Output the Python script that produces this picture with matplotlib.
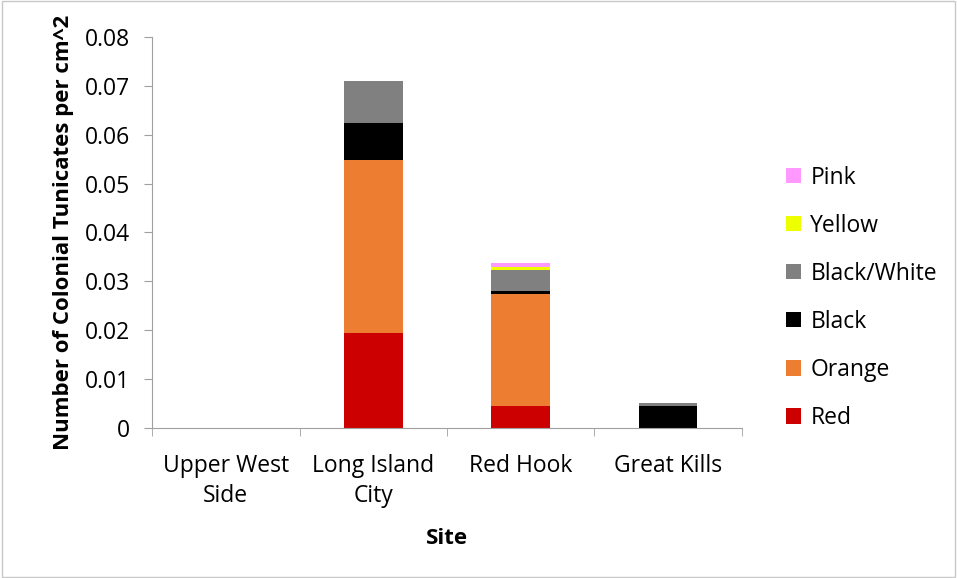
import numpy as np
import matplotlib.pyplot as plt
from matplotlib.patches import Rectangle

plt.rcParams['font.family'] = ['Open Sans', 'DejaVu Sans']

sites = ['Upper West\nSide', 'Long Island\nCity', 'Red Hook', 'Great Kills']
red = [0.0, 0.0194, 0.0044, 0.0]
orange = [0.0, 0.0354, 0.0229, 0.0]
black = [0.0, 0.0075, 0.0006, 0.0045]
black_white = [0.0, 0.0086, 0.0043, 0.0005]
yellow = [0.0, 0.0, 0.0008, 0.0]
pink = [0.0, 0.0, 0.0008, 0.0]

series = [
    ('Red', red, '#cc0000'),
    ('Orange', orange, '#ed7d31'),
    ('Black', black, '#000000'),
    ('Black/White', black_white, '#808080'),
    ('Yellow', yellow, '#eeff00'),
    ('Pink', pink, '#ff99ff'),
]

fig = plt.figure(figsize=(9.57, 5.78), dpi=100)
ax = fig.add_axes([0.159, 0.26, 0.616, 0.676])

x = np.arange(len(sites))
bottom = np.zeros(len(sites))
for name, vals, color in series:
    vals = np.array(vals)
    ax.bar(x, vals, 0.4, bottom=bottom, color=color, label=name, zorder=2)
    bottom += vals

ax.set_xlim(-0.5, 3.5)
ax.set_ylim(0, 0.08)
ax.set_yticks(np.arange(0, 0.081, 0.01))
ax.set_yticklabels(['0'] + ['%.2f' % v for v in np.arange(0.01, 0.081, 0.01)])
ax.set_xticks(x)
ax.set_xticklabels(sites, linespacing=1.3)
ax.set_xticks(np.arange(-0.5, 3.6, 1), minor=True)
ax.tick_params(axis='x', which='major', length=0, labelsize=16.5, pad=19)
ax.tick_params(axis='x', which='minor', length=6, color='#a0a0a0')
ax.tick_params(axis='y', length=6, color='#a0a0a0', labelsize=16.5, pad=10)

for side in ['top', 'right']:
    ax.spines[side].set_visible(False)
for side in ['left', 'bottom']:
    ax.spines[side].set_color('#a0a0a0')

ax.set_xlabel('Site', fontsize=16, fontweight='bold', labelpad=15)
ax.set_ylabel('Number of Colonial Tunicates per cm^2', fontsize=16, fontweight='bold', labelpad=8)

handles, labels = ax.get_legend_handles_labels()
fig.legend(handles[::-1], labels[::-1], loc='upper left', bbox_to_anchor=(0.8, 0.749),
           frameon=False, fontsize=16.5, handlelength=0.65, handleheight=0.65,
           labelspacing=1.05, handletextpad=0.4)

# light frame around the whole figure
fig.patches.append(Rectangle((0.002, 0.002), 0.996, 0.996, transform=fig.transFigure,
                             fill=False, edgecolor='#c8c8c8', linewidth=1))

fig.savefig('out.png', dpi=100)
